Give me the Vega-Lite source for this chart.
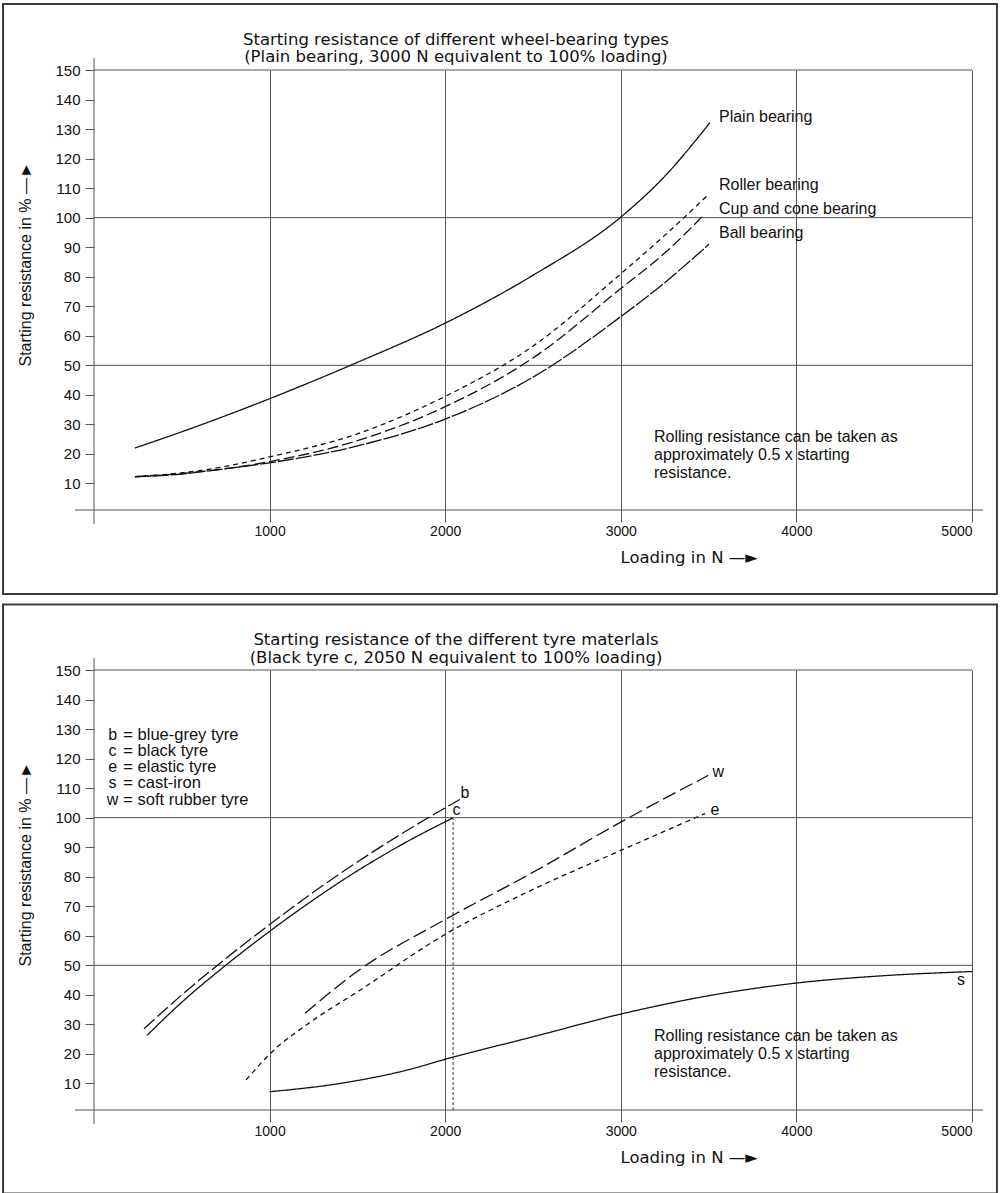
{
  "$schema": "https://vega.github.io/schema/vega-lite/v6.json",
  "padding": {"left": 2, "top": 2, "right": 2, "bottom": 1},
  "background": "white",
  "spacing": 7,
  "resolve": {"scale": {"strokeDash": "independent"}},
  "config": {
    "view": {"stroke": null},
    "axis": {"domain": false, "labelFont": "Liberation Sans", "labelColor": "#111", "tickColor": "#555", "gridColor": "#555", "gridOpacity": 1, "tickWidth": 1, "gridWidth": 1, "titleFont": "Liberation Sans", "titleFontWeight": "normal", "titleColor": "#111"},
    "title": {"font": "DejaVu Sans", "fontWeight": "normal", "color": "#111"},
    "text": {"font": "Liberation Sans", "fontSize": 16, "color": "#111"}
  },
  "datasets": {
    "topBox": [{"load": -518, "load2": 5142, "r": -27.43, "r2": 172.35}],
    "botBox": [{"load": -518, "load2": 5142, "r": -27.26, "r2": 172.2}],
    "axisLines": [
      {"load": 0, "load2": 0, "r": -3.7, "r2": 154},
      {"load": -108, "load2": 5063, "r": 1, "r2": 1},
      {"load": 0, "load2": 5000, "r": 50, "r2": 50},
      {"load": 0, "load2": 5000, "r": 100, "r2": 100},
      {"load": 0, "load2": 5000, "r": 150, "r2": 150}
    ],
    "topCurves": [
      {"series": "Plain bearing", "load": 233, "r": 22},
      {"series": "Plain bearing", "load": 500, "r": 27.5},
      {"series": "Plain bearing", "load": 1000, "r": 38.7},
      {"series": "Plain bearing", "load": 1500, "r": 51},
      {"series": "Plain bearing", "load": 2000, "r": 64.3},
      {"series": "Plain bearing", "load": 2500, "r": 80.5},
      {"series": "Plain bearing", "load": 3000, "r": 100.2},
      {"series": "Plain bearing", "load": 3250, "r": 114},
      {"series": "Plain bearing", "load": 3508, "r": 132.2},
      {"series": "Roller bearing", "load": 233, "r": 12.3},
      {"series": "Roller bearing", "load": 500, "r": 13.6},
      {"series": "Roller bearing", "load": 750, "r": 15.8},
      {"series": "Roller bearing", "load": 1000, "r": 19},
      {"series": "Roller bearing", "load": 1500, "r": 26.8},
      {"series": "Roller bearing", "load": 2000, "r": 39.5},
      {"series": "Roller bearing", "load": 2500, "r": 56.5},
      {"series": "Roller bearing", "load": 3000, "r": 81},
      {"series": "Roller bearing", "load": 3250, "r": 94},
      {"series": "Roller bearing", "load": 3502, "r": 108},
      {"series": "Cup and cone bearing", "load": 233, "r": 12.3},
      {"series": "Cup and cone bearing", "load": 500, "r": 13.4},
      {"series": "Cup and cone bearing", "load": 750, "r": 15},
      {"series": "Cup and cone bearing", "load": 1000, "r": 17.4},
      {"series": "Cup and cone bearing", "load": 1500, "r": 24.5},
      {"series": "Cup and cone bearing", "load": 2000, "r": 36},
      {"series": "Cup and cone bearing", "load": 2500, "r": 52.5},
      {"series": "Cup and cone bearing", "load": 3000, "r": 76},
      {"series": "Cup and cone bearing", "load": 3250, "r": 88},
      {"series": "Cup and cone bearing", "load": 3468, "r": 100.6},
      {"series": "Ball bearing", "load": 233, "r": 12.2},
      {"series": "Ball bearing", "load": 500, "r": 13.2},
      {"series": "Ball bearing", "load": 750, "r": 15},
      {"series": "Ball bearing", "load": 1000, "r": 17},
      {"series": "Ball bearing", "load": 1500, "r": 22.7},
      {"series": "Ball bearing", "load": 2000, "r": 31.8},
      {"series": "Ball bearing", "load": 2500, "r": 46},
      {"series": "Ball bearing", "load": 3000, "r": 66.5},
      {"series": "Ball bearing", "load": 3250, "r": 78},
      {"series": "Ball bearing", "load": 3502, "r": 91}
    ],
    "topText": [
      {"label": "Plain bearing", "load": 3559, "r": 134.1},
      {"label": "Roller bearing", "load": 3559, "r": 111.1},
      {"label": "Cup and cone bearing", "load": 3559, "r": 102.9},
      {"label": "Ball bearing", "load": 3559, "r": 94.8},
      {"label": "Rolling resistance can be taken as", "load": 3189, "r": 25.7},
      {"label": "approximately 0.5 x starting", "load": 3189, "r": 19.6},
      {"label": "resistance.", "load": 3189, "r": 13.5}
    ],
    "botCurves": [
      {"series": "b", "load": 285, "r": 28.5},
      {"series": "b", "load": 500, "r": 40},
      {"series": "b", "load": 750, "r": 52.3},
      {"series": "b", "load": 1000, "r": 63.8},
      {"series": "b", "load": 1250, "r": 74.8},
      {"series": "b", "load": 1500, "r": 85},
      {"series": "b", "load": 1750, "r": 94.5},
      {"series": "b", "load": 2084, "r": 106.2},
      {"series": "c", "load": 302, "r": 26.3},
      {"series": "c", "load": 500, "r": 37.5},
      {"series": "c", "load": 750, "r": 50},
      {"series": "c", "load": 1000, "r": 61.5},
      {"series": "c", "load": 1250, "r": 72.2},
      {"series": "c", "load": 1500, "r": 82},
      {"series": "c", "load": 1750, "r": 90.8},
      {"series": "c", "load": 2043, "r": 99.9},
      {"series": "e", "load": 866, "r": 11.2},
      {"series": "e", "load": 1000, "r": 19.9},
      {"series": "e", "load": 1250, "r": 31.5},
      {"series": "e", "load": 1500, "r": 41},
      {"series": "e", "load": 2000, "r": 60.5},
      {"series": "e", "load": 2500, "r": 75.7},
      {"series": "e", "load": 3000, "r": 88.9},
      {"series": "e", "load": 3480, "r": 101.4},
      {"series": "w", "load": 1202, "r": 33.8},
      {"series": "w", "load": 1500, "r": 48},
      {"series": "w", "load": 2000, "r": 65.5},
      {"series": "w", "load": 2500, "r": 81.5},
      {"series": "w", "load": 3000, "r": 98.5},
      {"series": "w", "load": 3498, "r": 114.3},
      {"series": "s", "load": 1000, "r": 7.2},
      {"series": "s", "load": 1400, "r": 10},
      {"series": "s", "load": 1800, "r": 14.8},
      {"series": "s", "load": 2000, "r": 18.2},
      {"series": "s", "load": 2500, "r": 25.8},
      {"series": "s", "load": 3000, "r": 33.5},
      {"series": "s", "load": 3500, "r": 39.7},
      {"series": "s", "load": 4000, "r": 44},
      {"series": "s", "load": 4500, "r": 46.5},
      {"series": "s", "load": 5000, "r": 47.9}
    ],
    "botDotted": [{"load": 2045, "load2": 2045, "r": 1, "r2": 99.9}],
    "botCenterText": [
      {"label": "b", "load": 106, "r": 128.06},
      {"label": "c", "load": 106, "r": 122.6},
      {"label": "e", "load": 106, "r": 117.3},
      {"label": "s", "load": 106, "r": 111.7},
      {"label": "w", "load": 106, "r": 106.05},
      {"label": "b", "load": 2113, "r": 108.5},
      {"label": "c", "load": 2065, "r": 102.7},
      {"label": "w", "load": 3555, "r": 115.5},
      {"label": "e", "load": 3536, "r": 102.7},
      {"label": "s", "load": 4937, "r": 44.9}
    ],
    "botLeftText": [
      {"label": "= blue-grey tyre", "load": 167, "r": 128.06},
      {"label": "= black tyre", "load": 167, "r": 122.6},
      {"label": "= elastic tyre", "load": 167, "r": 117.3},
      {"label": "= cast-iron", "load": 167, "r": 111.7},
      {"label": "= soft rubber tyre", "load": 167, "r": 106.05}
    ],
    "botNote": [
      {"label": "Rolling resistance can be taken as", "load": 3189, "r": 26.1},
      {"label": "approximately 0.5 x starting", "load": 3189, "r": 20.0},
      {"label": "resistance.", "load": 3189, "r": 13.9}
    ]
  },
  "vconcat": [
    {
      "width": 878,
      "height": 443,
      "title": {"text": ["Starting resistance of different wheel-bearing types", "(Plain bearing, 3000 N equivalent to 100% loading)"], "fontSize": 16.5, "lineHeight": 17.5, "anchor": "middle", "frame": "group", "dx": -77, "offset": -63},
      "encoding": {
        "x": {"field": "load", "type": "quantitative", "scale": {"domain": [0, 5000], "nice": false, "zero": false},
          "axis": {"values": [1000, 2000, 3000, 4000, 5000], "format": "d", "grid": true, "tickSize": 9, "labelPadding": 2, "labelFontSize": 14, "title": "Loading in N  —►", "titleFont": "DejaVu Sans", "titleFontSize": 16.5, "titleX": 526, "titleY": 44, "titleAlign": "left", "titleBaseline": "middle"}},
        "y": {"field": "r", "type": "quantitative", "scale": {"domain": [0, 150], "nice": false, "zero": false},
          "axis": {"values": [10, 20, 30, 40, 50, 60, 70, 80, 90, 100, 110, 120, 130, 140, 150], "grid": false, "tickSize": 9, "labelPadding": 5, "labelFontSize": 15, "title": "Starting resistance in %  —►", "titleFontSize": 16, "titleAngle": -90, "titleX": -69, "titleY": 296, "titleAlign": "left", "titleBaseline": "middle"}}
      },
      "layer": [
        {"data": {"name": "topBox"}, "mark": {"type": "rect", "filled": false, "color": "#3a3a3a", "strokeWidth": 2},
          "encoding": {"x2": {"field": "load2"}, "y2": {"field": "r2"}}},
        {"data": {"name": "axisLines"}, "mark": {"type": "rule", "color": "#555", "strokeWidth": 1},
          "encoding": {"x2": {"field": "load2"}, "y2": {"field": "r2"}}},
        {"data": {"name": "topCurves"}, "mark": {"type": "line", "color": "#111", "strokeWidth": 1.3, "interpolate": "monotone"},
          "encoding": {"detail": {"field": "series"}, "strokeDash": {"field": "series", "type": "nominal", "legend": null,
            "scale": {"domain": ["Plain bearing", "Roller bearing", "Cup and cone bearing", "Ball bearing"], "range": [[1, 0], [5, 4], [11, 4], [16, 2]]}}}},
        {"data": {"name": "topText"}, "mark": {"type": "text", "align": "left", "baseline": "middle"},
          "encoding": {"text": {"field": "label"}}}
      ]
    },
    {
      "width": 878,
      "height": 443,
      "title": {"text": ["Starting resistance of the different tyre materlals", "(Black tyre c, 2050 N equivalent to 100% loading)"], "fontSize": 16.5, "lineHeight": 17.5, "anchor": "middle", "frame": "group", "dx": -77, "offset": -63},
      "encoding": {
        "x": {"field": "load", "type": "quantitative", "scale": {"domain": [0, 5000], "nice": false, "zero": false},
          "axis": {"values": [1000, 2000, 3000, 4000, 5000], "format": "d", "grid": true, "tickSize": 9, "labelPadding": 2, "labelFontSize": 14, "title": "Loading in N  —►", "titleFont": "DejaVu Sans", "titleFontSize": 16.5, "titleX": 526, "titleY": 44, "titleAlign": "left", "titleBaseline": "middle"}},
        "y": {"field": "r", "type": "quantitative", "scale": {"domain": [0, 150], "nice": false, "zero": false},
          "axis": {"values": [10, 20, 30, 40, 50, 60, 70, 80, 90, 100, 110, 120, 130, 140, 150], "grid": false, "tickSize": 9, "labelPadding": 5, "labelFontSize": 15, "title": "Starting resistance in %  —►", "titleFontSize": 16, "titleAngle": -90, "titleX": -69, "titleY": 296, "titleAlign": "left", "titleBaseline": "middle"}}
      },
      "layer": [
        {"data": {"name": "botBox"}, "mark": {"type": "rect", "filled": false, "color": "#3a3a3a", "strokeWidth": 2},
          "encoding": {"x2": {"field": "load2"}, "y2": {"field": "r2"}}},
        {"data": {"name": "axisLines"}, "mark": {"type": "rule", "color": "#555", "strokeWidth": 1},
          "encoding": {"x2": {"field": "load2"}, "y2": {"field": "r2"}}},
        {"data": {"name": "botDotted"}, "mark": {"type": "rule", "color": "#222", "strokeWidth": 0.9, "strokeDash": [3, 2]},
          "encoding": {"x2": {"field": "load2"}, "y2": {"field": "r2"}}},
        {"data": {"name": "botCurves"}, "mark": {"type": "line", "color": "#111", "strokeWidth": 1.3, "interpolate": "monotone"},
          "encoding": {"detail": {"field": "series"}, "strokeDash": {"field": "series", "type": "nominal", "legend": null,
            "scale": {"domain": ["b", "c", "e", "s", "w"], "range": [[14, 4], [1, 0], [5, 4], [1, 0], [14, 5]]}}}},
        {"data": {"name": "botCenterText"}, "mark": {"type": "text", "align": "center", "baseline": "middle"},
          "encoding": {"text": {"field": "label"}}},
        {"data": {"name": "botLeftText"}, "mark": {"type": "text", "align": "left", "baseline": "middle", "fontSize": 16.5},
          "encoding": {"text": {"field": "label"}}},
        {"data": {"name": "botNote"}, "mark": {"type": "text", "align": "left", "baseline": "middle"},
          "encoding": {"text": {"field": "label"}}}
      ]
    }
  ]
}
